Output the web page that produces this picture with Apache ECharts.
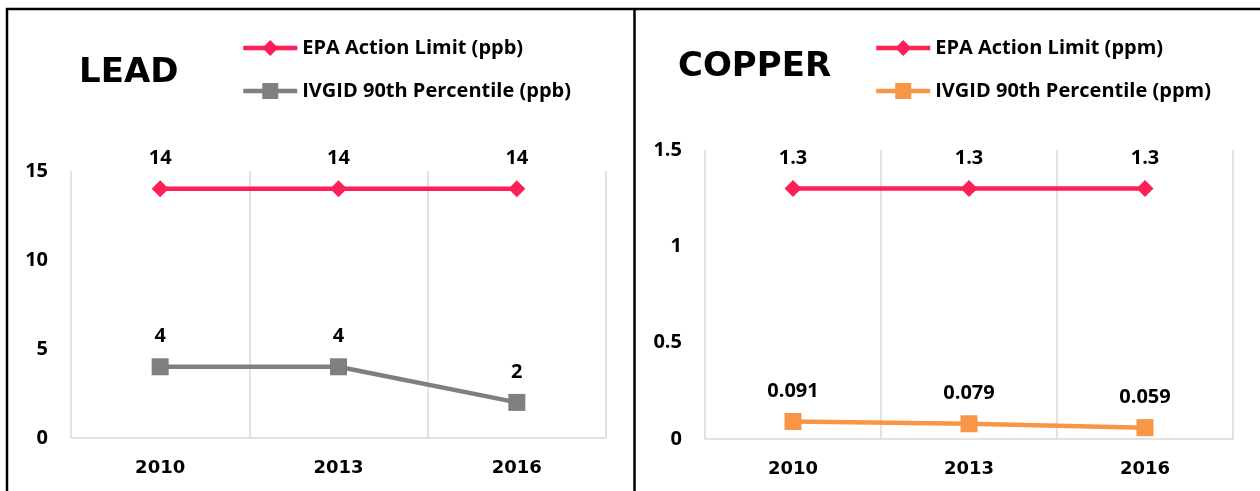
<!DOCTYPE html>
<html>
<head>
<meta charset="utf-8">
<script src="https://cdn.jsdelivr.net/npm/echarts@6/dist/echarts.min.js"></script>
<style>
    html, body { margin: 0; padding: 0; background: #fff; }
    #main { width: 1260px; height: 491px; }
</style>
</head>
<body>
<div id="main"></div>
<script>
    // data
    var years = ['2010', '2013', '2016'];
    var leadLimit = [14, 14, 14];
    var leadP90 = [4, 4, 2];
    var copperLimit = [1.3, 1.3, 1.3];
    var copperP90 = [0.091, 0.079, 0.059];

    var RED = '#ff1f57';
    var GRAY = '#7f7f7f';
    var ORANGE = '#f79646';
    var TXT = '"Open Sans", sans-serif';
    var WIDE = '"DejaVu Sans", sans-serif';

    function xAxisFor(idx) {
        return {
            type: 'category',
            gridIndex: idx,
            data: years,
            boundaryGap: true,
            axisLine: { lineStyle: { color: '#d9d9d9', width: 1.5 } },
            axisTick: { show: false },
            splitLine: { show: true, lineStyle: { color: '#d9d9d9', width: 1.5 } },
            axisLabel: { margin: 21, color: '#000', fontFamily: WIDE, fontWeight: 'bold', fontSize: 18 }
        };
    }

    function yAxisFor(idx, max, interval) {
        return {
            type: 'value',
            gridIndex: idx,
            min: 0,
            max: max,
            interval: interval,
            axisLine: { show: false },
            axisTick: { show: false },
            splitLine: { show: false },
            axisLabel: { margin: 23, color: '#000', fontFamily: TXT, fontWeight: 'bold', fontSize: 20 }
        };
    }

    function lineSeries(name, data, idx, color, symbol) {
        return {
            name: name,
            type: 'line',
            xAxisIndex: idx,
            yAxisIndex: idx,
            data: data,
            symbol: symbol,
            symbolSize: 17,
            lineStyle: { color: color, width: 4.5 },
            itemStyle: { color: color },
            label: {
                show: true,
                position: 'top',
                distance: 12,
                color: '#000',
                fontFamily: TXT,
                fontWeight: 'bold',
                fontSize: 20
            }
        };
    }

    function legendFor(left, names) {
        return {
            orient: 'vertical',
            left: left,
            top: 38,
            padding: 0,
            itemWidth: 54,
            itemHeight: 20,
            itemGap: 23,
            data: names,
            lineStyle: { width: 4.5 },
            textStyle: { color: '#000', fontFamily: TXT, fontWeight: 'bold', fontSize: 20 }
        };
    }

    var chart = echarts.init(document.getElementById('main'));
    chart.setOption({
        animation: false,
        backgroundColor: '#fff',
        title: [
            { text: 'LEAD', left: 79, top: 56, padding: 0, textStyle: { fontFamily: WIDE, fontWeight: 'bold', fontSize: 34, color: '#000' } },
            { text: 'COPPER', left: 678, top: 50, padding: 0, textStyle: { fontFamily: WIDE, fontWeight: 'bold', fontSize: 34, color: '#000' } }
        ],
        legend: [
            legendFor(241, ['EPA Action Limit (ppb)', 'IVGID 90th Percentile (ppb)']),
            legendFor(874, ['EPA Action Limit (ppm)', 'IVGID 90th Percentile (ppm)'])
        ],
        grid: [
            { left: 71, top: 171, width: 535, height: 267 },
            { left: 705, top: 150, width: 528, height: 289 }
        ],
        xAxis: [xAxisFor(0), xAxisFor(1)],
        yAxis: [yAxisFor(0, 15, 5), yAxisFor(1, 1.5, 0.5)],
        series: [
            lineSeries('EPA Action Limit (ppb)', leadLimit, 0, RED, 'diamond'),
            lineSeries('IVGID 90th Percentile (ppb)', leadP90, 0, GRAY, 'rect'),
            lineSeries('EPA Action Limit (ppm)', copperLimit, 1, RED, 'diamond'),
            lineSeries('IVGID 90th Percentile (ppm)', copperP90, 1, ORANGE, 'rect')
        ],
        graphic: [
            // frame lines of the two panels
            { type: 'line', shape: { x1: 6, y1: 9, x2: 1260, y2: 9 }, style: { stroke: '#000', lineWidth: 2.5 } },
            { type: 'line', shape: { x1: 7, y1: 8, x2: 7, y2: 491 }, style: { stroke: '#000', lineWidth: 2.5 } },
            { type: 'line', shape: { x1: 634.5, y1: 8, x2: 634.5, y2: 491 }, style: { stroke: '#000', lineWidth: 2.5 } }
        ]
    });
</script>
</body>
</html>
